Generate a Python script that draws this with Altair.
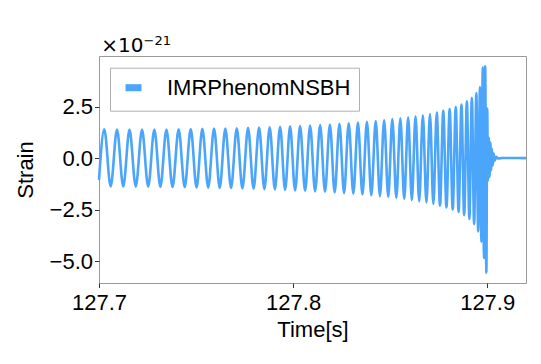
import altair as alt
import pandas as pd

# --- data (time in s, strain in units of 1e-21) ---
start_t = [127.70000]
start_h = [-1.05]

peak_t = [127.70273, 127.70928, 127.71572, 127.72216, 127.72851, 127.73474, 127.74103, 127.74727,
          127.75325, 127.75928, 127.76510, 127.77098, 127.77680, 127.78247, 127.78794, 127.79330,
          127.79845, 127.80361, 127.80876, 127.81392, 127.81897, 127.82387, 127.82866, 127.83340,
          127.83804, 127.84258, 127.84691, 127.85113, 127.85526, 127.85928, 127.86309, 127.86686,
          127.87052, 127.87402, 127.87737, 127.88067, 127.88381, 127.88675, 127.88954, 127.89211,
          127.89443, 127.89629, 127.89773, 127.89897]
peak_h = [1.40, 1.38, 1.38, 1.38, 1.39, 1.39, 1.40, 1.41,
          1.42, 1.43, 1.44, 1.45, 1.47, 1.48, 1.50, 1.52,
          1.54, 1.56, 1.58, 1.61, 1.63, 1.66, 1.69, 1.72,
          1.76, 1.80, 1.84, 1.89, 1.93, 1.98, 2.03, 2.08,
          2.14, 2.21, 2.29, 2.38, 2.48, 2.60, 2.75, 2.93,
          3.15, 3.45, 4.40, 4.45]

trough_t = [127.70600, 127.71250, 127.71894, 127.72534, 127.73162, 127.73788, 127.74415, 127.75026,
            127.75626, 127.76219, 127.76804, 127.77389, 127.77963, 127.78520, 127.79062, 127.79588,
            127.80103, 127.80618, 127.81134, 127.81644, 127.82142, 127.82626, 127.83103, 127.83572,
            127.84031, 127.84474, 127.84902, 127.85319, 127.85727, 127.86118, 127.86497, 127.86869,
            127.87227, 127.87569, 127.87902, 127.88224, 127.88528, 127.88814, 127.89082, 127.89327,
            127.89536, 127.89701, 127.89835, 127.89959]
trough_h = [-1.37, -1.37, -1.38, -1.38, -1.39, -1.40, -1.41, -1.42,
            -1.43, -1.44, -1.45, -1.47, -1.48, -1.50, -1.52, -1.54,
            -1.56, -1.58, -1.61, -1.63, -1.66, -1.69, -1.72, -1.76,
            -1.80, -1.84, -1.88, -1.93, -1.98, -2.03, -2.09, -2.15,
            -2.22, -2.30, -2.39, -2.49, -2.61, -2.76, -2.95, -3.20,
            -3.55, -4.05, -4.84, -5.55]

ring_t = [127.90000, 127.90041, 127.90082, 127.90124, 127.90165, 127.90206, 127.90247,
          127.90289, 127.90335, 127.90392, 127.90464, 127.90567, 127.90773, 127.92000]
ring_h = [2.40, -1.10, 1.00, -0.90, 0.75, -0.60, 0.45,
          -0.35, 0.22, -0.12, 0.07, -0.02, 0.01, 0.0]

series_name = "IMRPhenomNSBH"
x_ticks = [127.7, 127.8, 127.9]
y_ticks = [-5.0, -2.5, 0.0, 2.5]
x_domain = [127.7, 127.92]
y_domain = [-6.05, 4.95]

# build the table
ts = list(start_t)
hs = list(start_h)
for pt, ph, tt, th in zip(peak_t, peak_h, trough_t, trough_h):
    ts += [pt, tt]
    hs += [ph, th]
ts += ring_t
hs += ring_h
df = pd.DataFrame({"t": ts, "h": hs, "model": series_name})

blue = "#4aa5fb"

line = alt.Chart(df).mark_line(strokeWidth=2.6, interpolate="monotone").encode(
    x=alt.X("t:Q", scale=alt.Scale(domain=x_domain, nice=False, zero=False),
            axis=alt.Axis(values=x_ticks, format=".1f", title="Time[s]", labelPadding=5,
                          labelFlush=False, labelOverlap=False, titlePadding=6)),
    y=alt.Y("h:Q", scale=alt.Scale(domain=y_domain, nice=False, zero=False),
            axis=alt.Axis(values=y_ticks, format=".1f", title="Strain", labelPadding=2,
                          labelFlush=False, labelOverlap=False, titlePadding=12)),
    color=alt.Color("model:N", scale=alt.Scale(domain=[series_name], range=[blue]),
                    legend=alt.Legend(title=None, orient="none", legendX=11, legendY=11.7,
                                      symbolType="stroke", symbolStrokeWidth=7, symbolSize=256,
                                      labelFontSize=22, labelFont="Liberation Sans", labelLimit=0,
                                      labelColor="black", labelOffset=22, symbolOffset=3.5,
                                      padding=8.5, strokeColor="#b0b0b0", fillColor="white",
                                      cornerRadius=0)),
)

exp_df = pd.DataFrame({"base": ["×10"], "sup": ["−21"]})
exp_base = alt.Chart(exp_df).mark_text(align="right", baseline="alphabetic", fontSize=20,
                                       font="DejaVu Sans", color="black").encode(
    text="base:N", x=alt.value(44.5), y=alt.value(-4.3))
exp_sup = alt.Chart(exp_df).mark_text(align="left", baseline="alphabetic", fontSize=13,
                                      font="DejaVu Sans", color="black").encode(
    text="sup:N", x=alt.value(44.5), y=alt.value(-11))

chart = alt.layer(line, exp_base, exp_sup).properties(
    width=427, height=227,
    autosize=alt.AutoSizeParams(type="none"),
    padding={"left": 91, "top": 48, "right": 6, "bottom": 70},
    background="white",
).configure_view(stroke="#9a9a9a", strokeWidth=1).configure_axis(
    domain=False, grid=False, ticks=True, tickSize=4.5, tickColor="#333333", tickWidth=1,
    labelFont="Liberation Sans", labelFontSize=22, labelColor="black",
    titleFont="Liberation Sans", titleFontSize=22, titleFontWeight="normal", titleColor="black",
)

chart.save("out.html", embed_options={"renderer": "svg", "actions": False})
